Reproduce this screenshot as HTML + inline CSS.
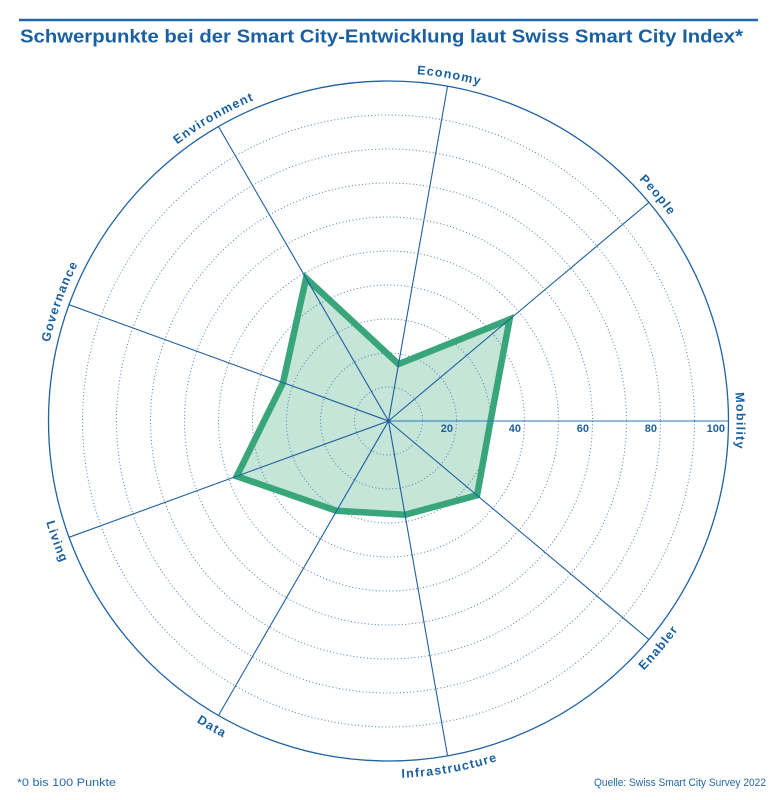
<!DOCTYPE html>
<html><head><meta charset="utf-8"><style>
html,body{margin:0;padding:0;background:#fff;}
svg{display:block;}
text{font-family:"Liberation Sans",Arial,sans-serif;}
</style></head><body>
<svg width="777" height="800" viewBox="0 0 777 800" xmlns="http://www.w3.org/2000/svg">
<rect width="777" height="800" fill="#fff"/>
<line x1="19" y1="20" x2="758" y2="20" stroke="#2368aa" stroke-width="2.5"/>
<text x="20" y="42.5" font-size="18" font-weight="bold" fill="#1a5f9f" textLength="723" lengthAdjust="spacingAndGlyphs">Schwerpunkte bei der Smart City-Entwicklung laut Swiss Smart City Index*</text>

<!-- polygon fill -->
<polygon points="490.5,421 477.05,495.31 405.03,514.75 336.65,510.8 236.74,476.23 283.07,382.63 306.05,278.2 398.53,364.08 509.6,319.37" fill="#c4e5d7" stroke="none"/>

<!-- dotted rings -->
<g fill="none" stroke="#4f7fae" stroke-width="1" stroke-dasharray="1 2.4">
<circle cx="388.5" cy="421" r="34"/>
<circle cx="388.5" cy="421" r="68"/>
<circle cx="388.5" cy="421" r="102"/>
<circle cx="388.5" cy="421" r="136"/>
<circle cx="388.5" cy="421" r="170"/>
<circle cx="388.5" cy="421" r="204"/>
<circle cx="388.5" cy="421" r="238"/>
<circle cx="388.5" cy="421" r="272"/>
<circle cx="388.5" cy="421" r="306"/>
</g>
<circle cx="388.5" cy="421" r="340" fill="none" stroke="#1f63a5" stroke-width="1.3"/>

<!-- polygon stroke -->
<polygon points="490.5,421 477.05,495.31 405.03,514.75 336.65,510.8 236.74,476.23 283.07,382.63 306.05,278.2 398.53,364.08 509.6,319.37" fill="none" stroke="#38a67a" stroke-width="6.5" stroke-linejoin="miter" stroke-miterlimit="10"/>

<!-- axes -->
<g stroke="#1f5f9f" stroke-width="1.1">
<line x1="388.5" y1="421" x2="728.5" y2="421" stroke="#2a78c0"/>
<line x1="388.5" y1="421" x2="648.9" y2="639.6"/>
<line x1="388.5" y1="421" x2="447.54" y2="755.8"/>
<line x1="388.5" y1="421" x2="218.5" y2="715.4"/>
<line x1="388.5" y1="421" x2="69" y2="537.3"/>
<line x1="388.5" y1="421" x2="69" y2="304.7"/>
<line x1="388.5" y1="421" x2="218.5" y2="126.6"/>
<line x1="388.5" y1="421" x2="447.54" y2="86.2"/>
<line x1="388.5" y1="421" x2="648.9" y2="202.4"/>
</g>
<circle cx="388.5" cy="421" r="2.2" fill="#1f63a5"/>

<!-- scale labels -->
<g font-size="11" font-weight="bold" fill="#1f5f9a" text-anchor="end">
<text x="453" y="432">20</text>
<text x="521" y="432">40</text>
<text x="589" y="432">60</text>
<text x="657" y="432">80</text>
<text x="725" y="432">100</text>
</g>

<!-- label paths -->
<defs>
<!-- upper (clockwise), r=348 -->
<path id="pMob" d="M 655.08,197.31 A 348 348 0 0 1 655.08,644.69"/>
<path id="pPeo" d="M 448.93,78.29 A 348 348 0 0 1 736.5,421"/>
<path id="pEco" d="M 214.5,119.62 A 348 348 0 0 1 655.08,197.31"/>
<path id="pEnv" d="M 61.49,301.98 A 348 348 0 0 1 448.93,78.29"/>
<path id="pGov" d="M 61.49,540.02 A 348 348 0 0 1 214.5,119.62"/>
<!-- lower (counter-clockwise), r=357 -->
<path id="pEna" d="M 450.49,772.58 A 357 357 0 0 0 745.5,421"/>
<path id="pInf" d="M 210,730.17 A 357 357 0 0 0 661.97,650.47"/>
<path id="pDat" d="M 53.03,543.1 A 357 357 0 0 0 450.49,772.58"/>
<path id="pLiv" d="M 53.03,298.9 A 357 357 0 0 0 210,730.17"/>
</defs>
<g font-size="12.5" font-weight="bold" fill="#1a5f9f" letter-spacing="1.2" text-anchor="middle">
<text><textPath href="#pMob" startOffset="50%">Mobility</textPath></text>
<text><textPath href="#pPeo" startOffset="50%">People</textPath></text>
<text><textPath href="#pEco" startOffset="50%">Economy</textPath></text>
<text><textPath href="#pEnv" startOffset="50%">Environment</textPath></text>
<text><textPath href="#pGov" startOffset="50%">Governance</textPath></text>
<text><textPath href="#pEna" startOffset="50%">Enabler</textPath></text>
<text><textPath href="#pInf" startOffset="50%">Infrastructure</textPath></text>
<text><textPath href="#pDat" startOffset="50%">Data</textPath></text>
<text><textPath href="#pLiv" startOffset="50%">Living</textPath></text>
</g>

<!-- footer -->
<text x="17" y="786" font-size="11" fill="#2568a8" textLength="99" lengthAdjust="spacingAndGlyphs">*0 bis 100 Punkte</text>
<text x="766" y="786" font-size="11" fill="#2568a8" text-anchor="end" textLength="172" lengthAdjust="spacingAndGlyphs">Quelle: Swiss Smart City Survey 2022</text>
</svg>
</body></html>
